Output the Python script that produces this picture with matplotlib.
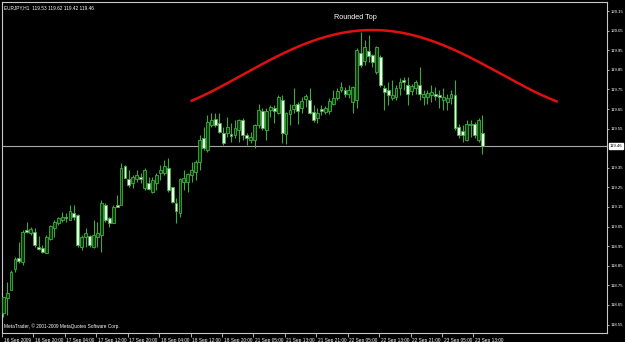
import numpy as np
import matplotlib
matplotlib.use("Agg")
import matplotlib.pyplot as plt
from matplotlib.transforms import ScaledTranslation, blended_transform_factory

plt.rcParams["font.family"] = ["Liberation Sans", "DejaVu Sans"]

# ---------------- data ----------------
opens = [118.608, 118.684, 118.727, 118.834, 118.888, 118.871, 119.033, 119.016, 119.024, 118.948,
         118.943, 118.917, 118.985, 119.041, 119.067, 119.084, 119.101, 119.084, 119.121, 119.109,
         118.948, 118.999, 119.002, 118.948, 118.999, 119.007, 119.160, 119.092, 119.070, 119.160,
         119.160, 119.359, 119.291, 119.271, 119.291, 119.301, 119.245, 119.271, 119.228, 119.271,
         119.322, 119.322, 119.347, 119.250, 119.172, 119.118, 119.279, 119.279, 119.313, 119.330,
         119.381, 119.500, 119.441, 119.568, 119.597, 119.580, 119.526, 119.526, 119.522, 119.517,
         119.543, 119.594, 119.517, 119.491, 119.491, 119.568, 119.639, 119.542, 119.644, 119.656,
         119.632, 119.695, 119.520, 119.627, 119.649, 119.675, 119.653, 119.700, 119.695, 119.636,
         119.602, 119.649, 119.636, 119.639, 119.678, 119.707, 119.746, 119.745, 119.729, 119.687,
         119.695, 119.937, 119.894, 119.945, 119.928, 119.840, 119.916, 119.758, 119.746, 119.707,
         119.712, 119.755, 119.797, 119.775, 119.741, 119.755, 119.775, 119.712, 119.712, 119.721,
         119.729, 119.721, 119.695, 119.687, 119.707, 119.721, 119.559, 119.537, 119.491, 119.568,
         119.576, 119.491, 119.53]
highs = [118.693, 118.769, 118.829, 118.897, 118.973, 119.033, 119.075, 119.050, 119.041, 119.002,
         118.956, 119.007, 119.058, 119.084, 119.101, 119.126, 119.118, 119.160, 119.160, 119.114,
         119.007, 119.041, 119.007, 119.084, 119.075, 119.186, 119.169, 119.101, 119.160, 119.211,
         119.373, 119.364, 119.339, 119.313, 119.339, 119.322, 119.347, 119.305, 119.305, 119.322,
         119.364, 119.390, 119.398, 119.254, 119.194, 119.296, 119.339, 119.322, 119.381, 119.390,
         119.517, 119.560, 119.619, 119.628, 119.628, 119.628, 119.560, 119.611, 119.577, 119.594,
         119.597, 119.602, 119.525, 119.534, 119.576, 119.678, 119.653, 119.653, 119.670, 119.670,
         119.721, 119.721, 119.636, 119.673, 119.755, 119.687, 119.712, 119.724, 119.755, 119.670,
         119.656, 119.670, 119.666, 119.707, 119.746, 119.755, 119.789, 119.763, 119.772, 119.767,
         119.959, 120.044, 120.001, 120.027, 119.933, 119.973, 119.925, 119.772, 119.789, 119.797,
         119.772, 119.806, 119.814, 119.814, 119.780, 119.797, 119.865, 119.746, 119.746, 119.775,
         119.763, 119.746, 119.755, 119.729, 119.746, 119.797, 119.576, 119.568, 119.593, 119.593,
         119.585, 119.602, 119.62]
lows = [118.591, 118.599, 118.727, 118.820, 118.863, 118.854, 119.016, 119.007, 118.948, 118.931,
        118.914, 118.914, 118.982, 118.999, 119.058, 119.075, 119.075, 119.084, 119.084, 118.948,
        118.931, 118.948, 118.948, 118.939, 118.948, 118.922, 119.075, 119.050, 119.067, 119.152,
        119.160, 119.296, 119.254, 119.245, 119.279, 119.271, 119.237, 119.237, 119.220, 119.237,
        119.288, 119.313, 119.228, 119.169, 119.067, 119.101, 119.237, 119.228, 119.279, 119.288,
        119.339, 119.441, 119.432, 119.560, 119.560, 119.526, 119.466, 119.509, 119.483, 119.500,
        119.483, 119.492, 119.466, 119.474, 119.449, 119.551, 119.542, 119.491, 119.610, 119.581,
        119.627, 119.474, 119.469, 119.568, 119.632, 119.571, 119.632, 119.661, 119.627, 119.585,
        119.580, 119.619, 119.622, 119.622, 119.670, 119.695, 119.738, 119.712, 119.704, 119.632,
        119.653, 119.865, 119.877, 119.891, 119.865, 119.831, 119.763, 119.644, 119.670, 119.695,
        119.695, 119.721, 119.746, 119.670, 119.721, 119.729, 119.695, 119.670, 119.678, 119.687,
        119.695, 119.653, 119.644, 119.644, 119.678, 119.542, 119.500, 119.483, 119.486, 119.508,
        119.500, 119.483, 119.42]
closes = [118.693, 118.713, 118.820, 118.883, 118.876, 119.024, 119.024, 119.038, 118.956, 118.934,
          118.922, 118.995, 119.053, 119.075, 119.092, 119.101, 119.092, 119.130, 119.101, 118.956,
          118.995, 119.016, 118.956, 119.007, 119.016, 119.169, 119.084, 119.067, 119.152, 119.150,
          119.347, 119.300, 119.262, 119.301, 119.313, 119.291, 119.339, 119.240, 119.288, 119.313,
          119.339, 119.359, 119.237, 119.177, 119.130, 119.291, 119.296, 119.318, 119.339, 119.381,
          119.492, 119.449, 119.585, 119.594, 119.568, 119.534, 119.475, 119.560, 119.512, 119.551,
          119.594, 119.517, 119.500, 119.508, 119.568, 119.644, 119.551, 119.639, 119.661, 119.639,
          119.712, 119.529, 119.632, 119.644, 119.670, 119.639, 119.690, 119.716, 119.632, 119.593,
          119.632, 119.639, 119.653, 119.690, 119.704, 119.741, 119.763, 119.724, 119.746, 119.763,
          119.950, 119.877, 119.967, 119.922, 119.888, 119.967, 119.772, 119.738, 119.721, 119.721,
          119.755, 119.789, 119.789, 119.729, 119.768, 119.789, 119.729, 119.729, 119.734, 119.738,
          119.717, 119.712, 119.712, 119.707, 119.729, 119.551, 119.517, 119.517, 119.576, 119.576,
          119.517, 119.593, 119.46]

time_labels = ["16 Sep 2009", "16 Sep 20:00", "17 Sep 04:00", "17 Sep 12:00", "17 Sep 20:00",
               "18 Sep 04:00", "18 Sep 12:00", "18 Sep 20:00", "21 Sep 05:00", "21 Sep 13:00",
               "21 Sep 21:00", "22 Sep 05:00", "22 Sep 13:00", "22 Sep 21:00", "23 Sep 05:00",
               "23 Sep 13:00"]
bars_per_label = 8
price_ticks = [120.15, 120.05, 119.95, 119.85, 119.75, 119.65, 119.55,
               119.35, 119.25, 119.15, 119.05, 118.95, 118.85, 118.75, 118.65, 118.55]
current_price = 119.46
symbol_title = "EURJPY,H1  119.53 119.62 119.42 119.46"

# hand-drawn "Rounded Top" arc, read as (bar, price) points
arc_bars = [48.0, 58.2, 70.5, 80.7, 85.8, 94.1, 106.1, 116.3, 126.5, 129.8, 140.9]
arc_prices = [119.692, 119.798, 119.917, 120.014, 120.039, 120.058, 120.011, 119.934, 119.835, 119.798, 119.687]

# ---------------- figure ----------------
W, H = 625, 342
fig = plt.figure(figsize=(W / 100, H / 100), dpi=100, facecolor="black")
ax = fig.add_axes([2 / W, (H - 333) / H, (607 - 2) / W, (333 - 2) / H], facecolor="black")

n = len(opens)
x = np.arange(n)
o = np.array(opens); c = np.array(closes); hi = np.array(highs); lo = np.array(lows)

wick_col = "#3fa83f"
ax.vlines(x, lo, hi, color=wick_col, lw=0.8, zorder=2)
bull = c >= o
bottoms = np.minimum(o, c)
heights = np.maximum(np.abs(c - o), 0.004)
ax.bar(x[bull], heights[bull], bottom=bottoms[bull], width=0.72,
       facecolor="#0b3d0b", edgecolor="#3fb03f", linewidth=0.6, zorder=3)
ax.bar(x[~bull], heights[~bull], bottom=bottoms[~bull], width=0.72,
       facecolor="#eaffea", edgecolor="#3fb03f", linewidth=0.6, zorder=3)

# current price line
ax.axhline(current_price, color="#a8a8a8", lw=0.8, zorder=1)

# arc
coef = np.polyfit(arc_bars, arc_prices, 4)
xs = np.linspace(arc_bars[0], arc_bars[-1], 200)
ax.plot(xs, np.polyval(coef, xs), color="#e01010", lw=1.8, zorder=4)
ax.text(89.6, 120.119, "Rounded Top", color="white", fontsize=5.2, ha="center", va="center")

ax.set_xlim(-0.25, 153.7)
ax.set_ylim(118.507, 120.196)

# spines
for s in ax.spines.values():
    s.set_color("#c8c8c8")
    s.set_linewidth(0.8)

small = 3.4

# y axis on the right
ax.yaxis.tick_right()
ax.set_yticks(price_ticks)
ax.set_yticklabels([f"{p:.2f}" for p in price_ticks])
ax.tick_params(axis="y", colors="#c8c8c8", labelcolor="white", length=1.5, width=0.6,
               labelsize=3.1, pad=0.8)

# x axis labels
xt = [bars_per_label * k - 0.3 for k in range(len(time_labels))]
ax.set_xticks(xt)
ax.set_xticklabels(time_labels)
ax.tick_params(axis="x", colors="#c8c8c8", labelcolor="white", length=3, width=0.6,
               labelsize=small, pad=0.3)
off = ScaledTranslation(1.5 / 100, 0, fig.dpi_scale_trans)
for lab in ax.get_xticklabels():
    lab.set_ha("left")
    lab.set_transform(lab.get_transform() + off)

# current price box
tr = blended_transform_factory(ax.transAxes, ax.transData)
ax.text(1.0 + 2.5 / 605, current_price, f"{current_price:.2f}", transform=tr, fontsize=3.1,
        color="black", ha="left", va="center", clip_on=False,
        bbox=dict(boxstyle="square,pad=0.2", facecolor="white", edgecolor="white"))

# texts
ax.text(2 / 605, 1 - 6 / 331, symbol_title, transform=ax.transAxes, color="white",
        fontsize=small, ha="left", va="center")
ax.text(2 / 605, 7 / 331, "MetaTrader, \u00a9 2001-2009 MetaQuotes Software Corp.",
        transform=ax.transAxes, color="white", fontsize=small, ha="left", va="center")

fig.savefig("out.png", dpi=100, facecolor="black")
